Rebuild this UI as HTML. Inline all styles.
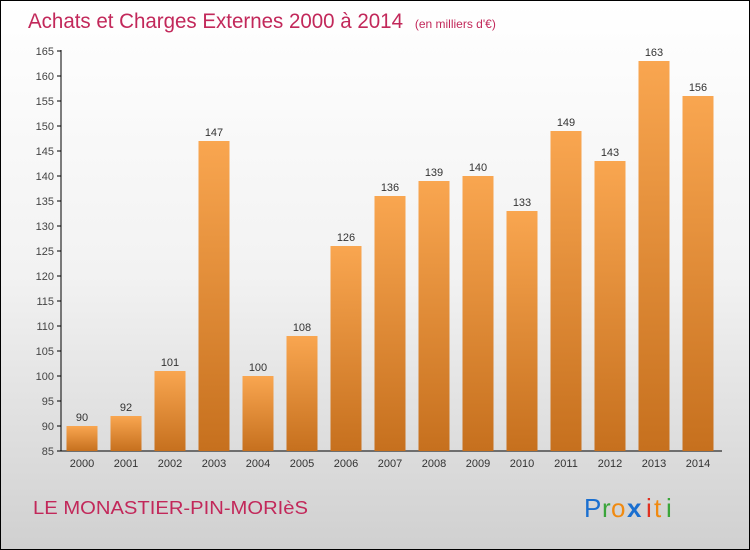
<!DOCTYPE html>
<html><head><meta charset="utf-8"><style>
body{margin:0}
#c{width:750px;height:550px;position:relative;box-sizing:border-box;border:1px solid #000;background:linear-gradient(#fff 0%,#f2f2f2 50%,#d0d0d0 100%);font-family:"Liberation Sans",sans-serif;overflow:hidden}
</style></head><body>
<div id="c">
<svg width="748" height="548" style="position:absolute;left:0;top:0">
<defs><linearGradient id="g" x1="0" y1="0" x2="0" y2="1"><stop offset="0" stop-color="#f9a650"/><stop offset="1" stop-color="#c6701e"/></linearGradient></defs>
<text x="27" y="27" font-size="21" fill="#c2285a"><tspan textLength="375" lengthAdjust="spacingAndGlyphs">Achats et Charges Externes 2000 à 2014</tspan> <tspan font-size="12" dx="6">(en milliers d'€)</tspan></text>
<g id="plot"></g>
<text x="32" y="513" font-size="18" fill="#c2285a" textLength="275" lengthAdjust="spacingAndGlyphs">LE MONASTIER-PIN-MORIèS</text>
<g font-size="26" font-family="Liberation Sans,sans-serif">
<text x="583" y="516" fill="#1a6fd0">P</text><text x="601" y="516" fill="#3aa53a">r</text><text x="610" y="516" fill="#f08a10">o</text><text x="626" y="516" fill="#1a6fd0" font-weight="bold">x</text><text x="645" y="516" fill="#e03020">i</text><text x="653" y="516" fill="#f08a10">t</text><text x="665" y="516" fill="#3aa53a">i</text>
</g>
</svg>
</div>
<script>
const years=["2000","2001","2002","2003","2004","2005","2006","2007","2008","2009","2010","2011","2012","2013","2014"];
const values=[90,92,101,147,100,108,126,136,139,140,133,149,143,163,156];
const ticks=[85,90,95,100,105,110,115,120,125,130,135,140,145,150,155,160,165];
const NS="http://www.w3.org/2000/svg";
const g=document.getElementById('plot');
const y=v=>450-(v-85)*5;
const x=i=>81+i*44;
function mk(t,a){const e=document.createElementNS(NS,t);for(const k in a)e.setAttribute(k,a[k]);g.appendChild(e);return e;}
let ax=mk('line',{x1:60,y1:49,x2:60,y2:450,stroke:'#000'});


let bx=mk('line',{x1:60,y1:450,x2:721,y2:450,stroke:'#000'});


ticks.forEach(t=>{
 let l=mk('line',{x1:56,y1:y(t),x2:60,y2:y(t),stroke:'#000'});
 
 
 let tx=mk('text',{x:53,y:y(t)+4,'font-size':11,fill:'#444','text-anchor':'end'});
 tx.textContent=t;
 
 
});
years.forEach((yr,i)=>{
 const v=values[i];
 let r=mk('rect',{x:x(i)-15.5,y:y(v),width:31,height:450-y(v),fill:'url(#g)'});
 
 
 let vl=mk('text',{x:x(i),y:y(v)-5,'font-size':11,fill:'#333','text-anchor':'middle'});
 vl.textContent=v;
 
 
 let xl=mk('text',{x:x(i),y:466,'font-size':11,fill:'#333','text-anchor':'middle'});
 xl.textContent=yr;
 
 
});
</script>
</body></html>
